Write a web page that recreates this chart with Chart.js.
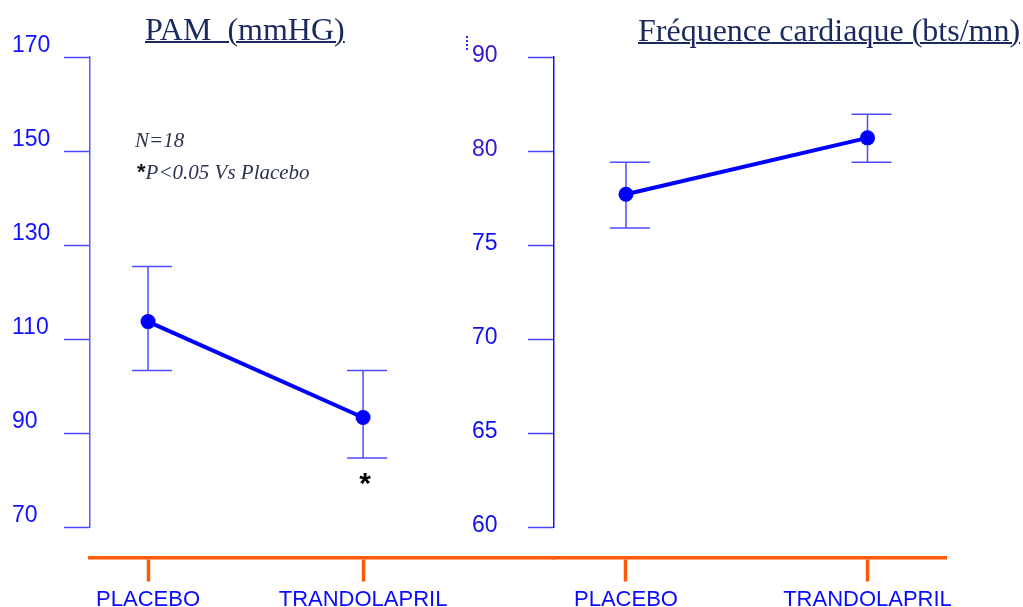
<!DOCTYPE html>
<html>
<head>
<meta charset="utf-8">
<script src="https://cdn.jsdelivr.net/npm/chart.js@4/dist/chart.umd.min.js"></script>
<style>
  html, body { margin: 0; padding: 0; background: #fff; }
  #wrap { position: relative; width: 1023px; height: 607px; overflow: hidden; }
  #wrap canvas { position: absolute; left: 0; top: 0; }
  .title {
    position: absolute; white-space: pre; line-height: 1;
    font-family: "Liberation Serif", "Times New Roman", serif; font-size: 32px;
    color: #1b2a5e; text-decoration: underline; text-decoration-thickness: 2px;
  }
  .note {
    position: absolute; white-space: pre; line-height: 1;
    font-family: "Liberation Serif", "Times New Roman", serif; font-size: 21px;
    font-style: italic; color: #2e3350;
  }
  .note b { font-family: "Liberation Sans", Arial, sans-serif; font-style: normal; font-size: 22px; color: #111; }
  .dots { position: absolute; left: 466px; top: 36px; height: 14px; border-left: 2px dotted #2a2aff; }
</style>
</head>
<body>
<div id="wrap">
  <canvas id="pam" width="1023" height="607"></canvas>
  <canvas id="fc" width="1023" height="607"></canvas>
  <div class="title" style="left:145px; top:13px;">PAM  (mmHG)</div>
  <div class="title" style="left:638px; top:14px;">Fréquence cardiaque (bts/mn)</div>
  <div class="note" style="left:135px; top:130px;">N=18</div>
  <div class="note" style="left:137px; top:161px;"><b>*</b>P&lt;0.05 Vs Placebo</div>
  <div class="dots"></div>
</div>
<script>
// donnees
const groups = ['PLACEBO', 'TRANDOLAPRIL'];

const pamMean = [113.7, 93.3];
const pamLow = [103.3, 84.7];
const pamHigh = [125.4, 103.3];
const pamMarks = ['', '*'];
const pamTicks = [70, 90, 110, 130, 150, 170];

const fcMean = [77.7, 81.4];
const fcLow = [75.9, 79.4];
const fcHigh = [79.4, 83.9];
const fcTicks = [60, 65, 70, 75, 80, 90];

const BLUE = '#0000ff';
const ORANGE = '#ff5a0a';
const SANS = '"Liberation Sans", Arial, sans-serif';

// axe vertical a pas egaux entre les graduations (80 -> 90 occupe un seul pas)
class SegmentScale extends Chart.LinearScale {
  buildTicks() {
    const b = this.options.breaks;
    this.min = b[0];
    this.max = b[b.length - 1];
    return b.map(value => ({ value }));
  }
  toDecimal(v) {
    const b = this.options.breaks;
    const n = b.length - 1;
    let i = 0;
    while (i < n - 1 && v > b[i + 1]) i++;
    return (i + (v - b[i]) / (b[i + 1] - b[i])) / n;
  }
  getPixelForValue(v) {
    return this.getPixelForDecimal(this.toDecimal(v));
  }
  getValueForPixel(p) {
    const b = this.options.breaks;
    const n = b.length - 1;
    const d = this.getDecimalForPixel(p) * n;
    const i = Math.min(Math.max(Math.floor(d), 0), n - 1);
    return b[i] + (d - i) * (b[i + 1] - b[i]);
  }
}
SegmentScale.id = 'segment';
SegmentScale.defaults = Chart.LinearScale.defaults;
Chart.register(SegmentScale);

// barres d'erreur + asterisque
const errorBars = {
  id: 'errorBars',
  beforeDatasetsDraw(chart, args, opts) {
    const { ctx } = chart;
    const x = chart.scales.x;
    const y = chart.scales.y;
    ctx.save();
    ctx.strokeStyle = opts.color;
    ctx.lineWidth = 1.5;
    opts.low.forEach((lo, i) => {
      const px = x.getPixelForValue(i);
      const yl = y.getPixelForValue(lo);
      const yh = y.getPixelForValue(opts.high[i]);
      ctx.beginPath();
      ctx.moveTo(px, yl);
      ctx.lineTo(px, yh);
      ctx.moveTo(px - 16, yh);
      ctx.lineTo(px + 24, yh);
      ctx.moveTo(px - 16, yl);
      ctx.lineTo(px + 24, yl);
      ctx.stroke();
      const mark = opts.marks ? opts.marks[i] : '';
      if (mark) {
        ctx.fillStyle = '#000';
        ctx.font = 'bold 30px ' + SANS;
        ctx.textAlign = 'center';
        ctx.textBaseline = 'alphabetic';
        ctx.fillText(mark, px + 2, yl + 35);
      }
    });
    ctx.restore();
  }
};

function makeChart(id, cfg) {
  const points = cfg.mean.map((v, i) => ({ x: i, y: v }));
  return new Chart(document.getElementById(id), {
    type: 'line',
    data: {
      datasets: [{
        data: points,
        borderColor: BLUE,
        borderWidth: 4,
        pointRadius: 7.5,
        pointBackgroundColor: BLUE,
        pointBorderWidth: 0,
        tension: 0,
        clip: false
      }]
    },
    options: {
      responsive: false,
      animation: false,
      devicePixelRatio: 1,
      layout: { padding: cfg.padding },
      plugins: {
        legend: { display: false },
        title: { display: false },
        tooltip: { enabled: false },
        errorBars: { low: cfg.low, high: cfg.high, marks: cfg.marks, color: '#4c4cff' }
      },
      scales: {
        x: {
          type: 'linear',
          min: cfg.xMin,
          max: cfg.xMax,
          position: { y: cfg.xAxisAt },
          afterBuildTicks: s => { s.ticks = groups.map((g, i) => ({ value: i })); },
          grid: { drawOnChartArea: false, tickLength: 22, tickColor: ORANGE, tickWidth: 3.5 },
          border: { color: ORANGE, width: 3.5 },
          ticks: {
            autoSkip: false,
            maxRotation: 0,
            padding: 7,
            color: '#0a0aff',
            font: { family: SANS, size: 22 },
            callback: v => groups[v]
          }
        },
        y: Object.assign({
          position: 'left',
          afterFit: s => { s.width = cfg.axisWidth; },
          grid: { drawOnChartArea: false, tickLength: 26, tickColor: cfg.tickColor, tickWidth: 1.5 },
          border: { color: cfg.axisColor, width: 1.5 },
          ticks: {
            autoSkip: false,
            crossAlign: 'far',
            padding: 4,
            labelOffset: cfg.labelOffset,
            color: cfg.labelColor,
            font: { family: SANS, size: 23 }
          }
        }, cfg.y)
      }
    },
    plugins: [errorBars]
  });
}

// PAM
makeChart('pam', {
  mean: pamMean, low: pamLow, high: pamHigh, marks: pamMarks,
  padding: { left: 12, top: 57, right: 469, bottom: 80 },
  xMin: -0.27, xMax: 1.888, xAxisAt: 63.4,
  axisWidth: 78, labelOffset: -11,
  axisColor: '#5858ff', tickColor: '#4848ff', labelColor: '#1212ff',
  y: {
    type: 'linear', min: 70, max: 170,
    afterBuildTicks: s => { s.ticks = pamTicks.map(value => ({ value })); }
  }
});

// frequence cardiaque
makeChart('fc', {
  mean: fcMean, low: fcLow, high: fcHigh, marks: null,
  padding: { left: 472, top: 57, right: 77, bottom: 80 },
  xMin: -0.298, xMax: 1.325, xAxisAt: 58.35,
  axisWidth: 82, labelOffset: -1,
  axisColor: '#1010ff', tickColor: '#4646ff',
  labelColor: ctx => (ctx.tick && ctx.tick.value >= 80 ? '#3414d0' : '#1010ee'),
  y: { type: 'segment', breaks: fcTicks, min: 60, max: 90 }
});
</script>
</body>
</html>
